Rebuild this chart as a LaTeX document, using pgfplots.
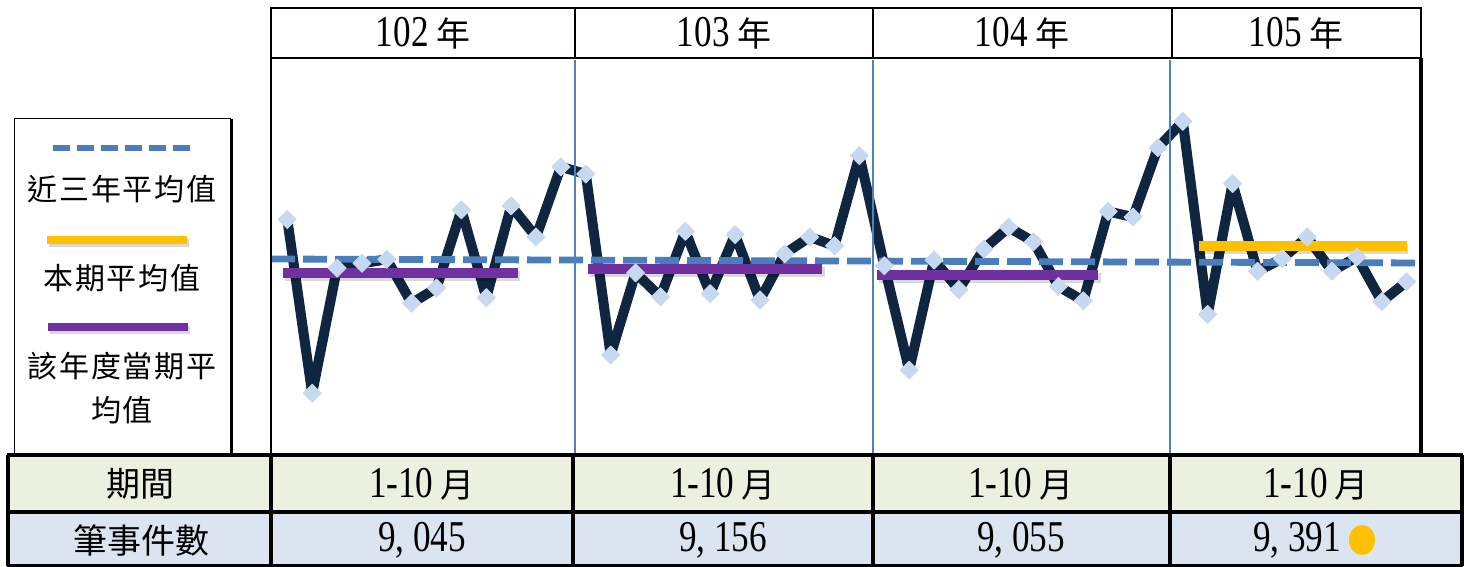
\documentclass[border=0pt]{standalone}
\usepackage{pgfplots}
\usepackage{pgfplotstable}
\pgfplotsset{compat=1.18}
\usepackage{fontspec}
\setmainfont[FakeStretch=0.8]{Liberation Serif}
\newfontfamily\cjk{Noto Sans CJK TC}
\newfontfamily\cjkl[LetterSpace=6]{Noto Sans CJK TC}

\definecolor{navy}{HTML}{10253F}
\definecolor{mk}{HTML}{C6D9F1}
\definecolor{avgblue}{HTML}{4A7EBB}
\definecolor{purp}{HTML}{7030A0}
\definecolor{gold}{HTML}{FFC000}
\definecolor{sep}{HTML}{4F81BD}
\definecolor{rowa}{HTML}{EBF1DE}
\definecolor{rowb}{HTML}{DBE5F1}

% monthly counts, 102-105 (12+12+12+10 months)
\pgfplotstableread{
idx v
0 972
1 754
2 911
3 917
4 922
5 867
6 886
7 984
8 874
9 989
10 950
11 1038
12 1029
13 802
14 905
15 875
16 957
17 879
18 953
19 871
20 929
21 950
22 939
23 1052
24 914
25 783
26 921
27 884
28 935
29 962
30 944
31 888
32 870
33 982
34 975
35 1062
36 1095
37 853
38 1017
39 907
40 923
41 950
42 907
43 925
44 869
45 894
}\monthly

\newcommand\hd[1]{{\fontsize{22}{26}\selectfont #1\,\cjk\fontsize{17}{20}\selectfont 年}}
\newcommand\mo{{\fontsize{22}{26}\selectfont 1-10\,\cjk\fontsize{17}{20}\selectfont 月}}
\newcommand\nb[1]{{\fontsize{22}{26}\selectfont #1}}
\newcommand\legtxt[1]{{\cjkl\fontsize{15}{18}\selectfont #1}}

\begin{document}
\begin{tikzpicture}[x=0.5pt,y=0.5pt]
\path[use as bounding box] (0,0) rectangle (1464,567);

\begin{axis}[
    at={(135.5pt,56pt)}, anchor=south west,
    width=575pt, height=198.5pt, scale only axis,
    hide axis, clip=false,
    xmin=-0.655, xmax=45.575,
    ymin=676.6, ymax=1174.5,
]
\addplot[navy, line width=5pt, line join=round,
    mark=square*, mark size=3.2pt,
    mark options={solid, fill=mk, draw=mk, line width=0.4pt, rotate=45}]
    table[x=idx, y=v]{\monthly};
% three-year average
\addplot[avgblue, line width=3.4pt, dash pattern=on 12pt off 4pt]
    coordinates {(-0.655,922.4) (45.575,917.4)};
% shadows
\addplot[black, opacity=0.15, line width=5pt] coordinates {(-0.1,900.5) (9.35,900.5)};
\addplot[black, opacity=0.15, line width=5pt] coordinates {(12.16,905.5) (21.6,905.5)};
\addplot[black, opacity=0.15, line width=5pt] coordinates {(23.77,898.4) (32.7,898.4)};
\addplot[black, opacity=0.15, line width=5pt] coordinates {(36.72,935.1) (45.07,935.1)};
% same-period average of each year
\addplot[purp, line width=5pt] coordinates {(-0.17,904.5) (9.27,904.5)};
\addplot[purp, line width=5pt] coordinates {(12.09,909.5) (21.5,909.5)};
\addplot[purp, line width=5pt] coordinates {(23.7,902.4) (32.6,902.4)};
% current period average
\addplot[gold, line width=5pt] coordinates {(36.65,939.1) (45.0,939.1)};
\end{axis}

% year separators
\foreach \xx in {575,873,1170}
  \draw[sep, line width=0.8pt] (\xx,507) -- (\xx,112);
% plot frame
\draw[black, line width=0.8pt] (271,509) -- (271,112);
\draw[black, line width=2pt] (1421,509) -- (1421,112);

% header
\draw[black, line width=0.8pt] (271,559) rectangle (1421,509);
\foreach \xx in {575,873,1172}
  \draw[black, line width=0.8pt] (\xx,559) -- (\xx,509);
\node at (423,534) {\hd{102}};
\node at (724,534) {\hd{103}};
\node at (1022,534) {\hd{104}};
\node at (1296,534) {\hd{105}};

% legend box
\draw[black, line width=0.5pt] (14,112) -- (14,448) -- (231,448);
\draw[black, line width=1.5pt] (231,448) -- (231,112);
\draw[avgblue, line width=3pt, dash pattern=on 8.5pt off 3.5pt] (53,419) -- (190,419);
\node at (122,378) {\legtxt{近三年平均值}};
\draw[black, opacity=0.15, line width=4pt] (49,324) -- (189,324);
\draw[gold, line width=4pt] (47,327) -- (187,327);
\node at (122,289) {\legtxt{本期平均值}};
\draw[black, opacity=0.15, line width=4pt] (50,237) -- (190,237);
\draw[purp, line width=4pt] (48,240) -- (188,240);
\node at (122,201) {\legtxt{該年度當期平}};
\node at (122,157) {\legtxt{均值}};

% table
\fill[rowa] (8,112) rectangle (1462,55);
\fill[rowb] (8,55) rectangle (1462,1);
\foreach \yy in {112,55,1}
  \draw[black, line width=2pt] (7,\yy) -- (1463,\yy);
\foreach \xx in {8,271,573,873,1170,1462}
  \draw[black, line width=2pt] (\xx,112) -- (\xx,1);
\node at (140,83) {{\cjk\fontsize{17}{20}\selectfont 期間}};
\node at (142,27) {{\cjk\fontsize{17}{20}\selectfont 筆事件數}};
\node at (422,83) {\mo};
\node at (723,83) {\mo};
\node at (1021,83) {\mo};
\node at (1316,83) {\mo};
\node at (422,27) {\nb{9, 045}};
\node at (723,27) {\nb{9, 156}};
\node at (1021,27) {\nb{9, 055}};
\node at (1297,27) {\nb{9, 391}};
\fill[gold] (1362,27) ellipse [x radius=6.5pt, y radius=7.5pt];
\end{tikzpicture}
\end{document}
